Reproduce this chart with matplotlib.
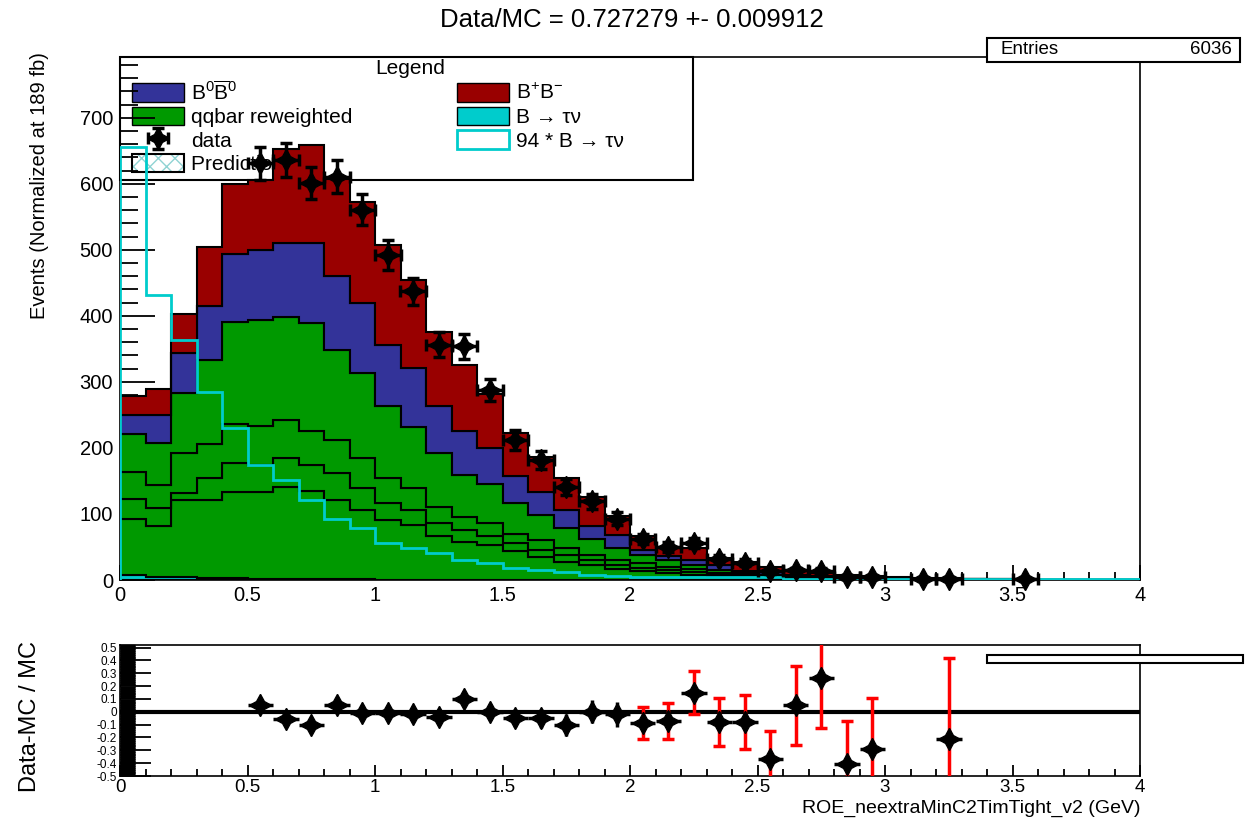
import numpy as np
import matplotlib.pyplot as plt
from matplotlib.patches import Patch, Rectangle
from matplotlib.ticker import MultipleLocator, FuncFormatter

plt.rcParams['font.family'] = ['Liberation Sans', 'DejaVu Sans']
plt.rcParams['mathtext.fontset'] = 'custom'
plt.rcParams['mathtext.rm'] = 'Liberation Sans'
plt.rcParams['mathtext.it'] = 'Liberation Sans:italic'

# 40 bins of 0.1 GeV
edges = np.linspace(0, 4, 41)

# stacked MC, cumulative heights of each layer
bc_top = [278, 289, 403, 505, 600, 606, 652, 659, 607, 573,
          508, 454, 376, 325, 281, 222, 187, 154, 126, 97,
          66, 50, 48, 33, 27, 20, 14, 11, 7, 6,
          4, 3, 3, 2, 1.5, 1.2, 0, 0, 0, 0]
b0_top = [250, 250, 343, 415, 494, 500, 511, 511, 461, 419,
          356, 321, 263, 225, 200, 157, 134, 106, 82, 68,
          46, 36, 30, 22, 14, 12, 8, 6, 4, 3,
          2.5, 2, 2, 1.5, 1, 0.8, 0, 0, 0, 0]
qq_top = [221, 208, 283, 333, 390, 393, 398, 389, 348, 313,
          263, 232, 192, 159, 146, 116, 98, 78, 62, 48,
          38, 30, 23, 15, 10, 8, 5, 4, 3, 2,
          1.5, 1, 1, 0.8, 0.6, 0.5, 0, 0, 0, 0]
qq_1 = [164, 144, 193, 206, 236, 233, 242, 225, 212, 184,
        154, 139, 111, 96, 86, 70, 61, 48, 38, 30,
        25, 20, 16, 11, 8, 6, 4, 3, 2, 1.5,
        1, 0.8, 0.8, 0.6, 0.5, 0.4, 0, 0, 0, 0]
qq_2 = [123, 109, 131, 154, 177, 174, 184, 174, 162, 139,
        117, 106, 86, 76, 66, 56, 46, 38, 30, 23,
        18, 15, 12, 8, 6, 4, 3, 2, 1.5, 1,
        0.8, 0.6, 0.6, 0.4, 0.3, 0.3, 0, 0, 0, 0]
qq_3 = [93, 82, 121, 121, 134, 134, 141, 135, 121, 106,
        91, 83, 66, 57, 53, 44, 35, 28, 23, 16,
        13, 10, 8, 6, 4, 3, 2, 1.5, 1, 0.7,
        0.5, 0.4, 0.4, 0.3, 0.2, 0.2, 0, 0, 0, 0]
# signal scaled by 94 (open cyan histogram)
signal_94 = [655, 432, 363, 284, 230, 174, 152, 121, 93, 78,
             56, 48, 41, 30, 25, 18, 15, 12, 8, 6,
             5, 5, 4, 4, 4, 4, 1, 1, 1, 1,
             1, 1, 1, 1, 1, 1, 1, 1, 1, 1]
signal_scale = 94

# data
data_x = [0.55, 0.65, 0.75, 0.85, 0.95, 1.05, 1.15, 1.25, 1.35, 1.45,
          1.55, 1.65, 1.75, 1.85, 1.95, 2.05, 2.15, 2.25, 2.35, 2.45,
          2.55, 2.65, 2.75, 2.85, 2.95, 3.15, 3.25, 3.55]
data_y = [631, 636, 601, 611, 561, 492, 437, 356, 354, 288,
          212, 182, 141, 119, 93, 62, 50, 56, 32, 26,
          13, 15, 14, 4, 4, 2, 2, 2]

# (data-MC)/MC
ratio_x = [0.55, 0.65, 0.75, 0.85, 0.95, 1.05, 1.15, 1.25, 1.35, 1.45,
           1.55, 1.65, 1.75, 1.85, 1.95, 2.05, 2.15, 2.25, 2.35, 2.45,
           2.55, 2.65, 2.75, 2.85, 2.95, 3.25]
ratio_y = [0.05, -0.06, -0.10, 0.05, -0.01, -0.01, -0.02, -0.04, 0.10, 0.0,
           -0.05, -0.05, -0.10, 0.0, -0.02, -0.085, -0.07, 0.15, -0.08, -0.08,
           -0.37, 0.05, 0.26, -0.41, -0.29, -0.21]
ratio_err = [0.04, 0.04, 0.04, 0.04, 0.045, 0.045, 0.05, 0.055, 0.055, 0.06,
             0.07, 0.075, 0.085, 0.09, 0.10, 0.125, 0.14, 0.17, 0.19, 0.21,
             0.22, 0.31, 0.385, 0.34, 0.40, 0.63]

GREEN = '#009900'
BLUE = '#333399'
RED = '#990000'
CYAN = '#00cccc'
STAR = (4, 1, 0)
MS = 16

W, H = 1251, 822


def fbox(x0, y0, x1, y1):
    # pixel box (top-left origin) -> figure fraction rect
    return [x0 / W, 1 - y1 / H, (x1 - x0) / W, (y1 - y0) / H]


fig = plt.figure(figsize=(W / 100, H / 100), dpi=100)
ax = fig.add_axes(fbox(120, 57, 1140, 580))
rax = fig.add_axes(fbox(120, 645, 1140, 776))

# stack
sig_top = np.array(signal_94, float) / signal_scale
layers = [(sig_top, CYAN), (qq_3, GREEN), (qq_2, GREEN), (qq_1, GREEN),
          (qq_top, GREEN), (b0_top, BLUE), (bc_top, RED)]
base = np.zeros(len(edges) - 1)
for top, col in layers:
    top = np.asarray(top, float)
    ax.stairs(top, edges, baseline=base, fill=True, facecolor=col,
              edgecolor='black', linewidth=1.5, zorder=3)
    base = top

ax.stairs(signal_94, edges, color=CYAN, linewidth=2, zorder=3.5)

dat = ax.errorbar(data_x, data_y, xerr=0.05, yerr=np.sqrt(data_y), fmt='',
                  marker=STAR, linestyle='none', ms=MS, color='black',
                  elinewidth=2.5, capsize=4, capthick=2.5, zorder=5)
for a in dat.get_children():
    a.set_clip_on(False)

ax.set_xlim(0, 4)
ax.set_ylim(0, 792)
fmt = FuncFormatter(lambda v, p: '%g' % (round(v, 2) + 0.0))
ax.xaxis.set_major_locator(MultipleLocator(0.5))
ax.xaxis.set_minor_locator(MultipleLocator(0.1))
ax.yaxis.set_major_locator(MultipleLocator(100))
ax.yaxis.set_minor_locator(MultipleLocator(20))
ax.xaxis.set_major_formatter(fmt)
ax.tick_params(which='both', direction='in', top=False, right=False, width=1.3,
               labelsize=14.5)
ax.tick_params(axis='y', which='major', length=25, pad=5)
ax.tick_params(axis='y', which='minor', length=13)
ax.tick_params(axis='x', which='major', length=11, pad=4)
ax.tick_params(axis='x', which='minor', length=6)
for s in ax.spines.values():
    s.set_linewidth(1.2)

# legend (sits under the histograms, like the original)
handles = [Patch(fc=BLUE, ec='black'), Patch(fc=GREEN, ec='black'), dat,
           (Patch(fc='white', ec='#8fd3d3', hatch='xx', lw=0),
            Patch(fc='none', ec='black', lw=1.5)),
           Patch(fc=RED, ec='black'), Patch(fc=CYAN, ec='black'),
           Patch(fc='white', ec=CYAN, lw=2)]
labels = [r'B$^0\overline{\mathrm{B}}^0$', 'qqbar reweighted', 'data',
          'Prediction MC', r'B$^{+}$B$^{-}$', 'B → τν', '94 * B → τν']
leg = ax.legend(handles, labels, ncol=2, loc='upper left',
                bbox_to_anchor=(132 / W, 1 - 80 / H),
                bbox_transform=fig.transFigure, frameon=False, fontsize=15,
                handlelength=2.5, handleheight=1.0, handletextpad=0.35,
                labelspacing=0.15, columnspacing=5.0, borderpad=0,
                borderaxespad=0)
leg.set_zorder(1)
ax.add_patch(Rectangle((120 / W, 1 - 180 / H), 573 / W, 123 / H,
                       transform=fig.transFigure, fc='white', ec='black',
                       lw=1.5, zorder=0.9, clip_on=False))
ax.text(410 / W, 1 - 68 / H, 'Legend', transform=fig.transFigure,
        ha='center', va='center', fontsize=15, zorder=1)

# ratio panel
rx = np.array(ratio_x)
ry = np.array(ratio_y)
re = np.array(ratio_err)
big = rx > 2.0
rax.axhline(0, color='black', lw=3, zorder=2)
rax.errorbar(rx[big], ry[big], yerr=re[big], fmt='none', ecolor='red',
             elinewidth=2.5, capsize=4, capthick=2.5, zorder=3)
rax.errorbar(rx[~big], ry[~big], xerr=0.05, yerr=re[~big], fmt='',
             marker=STAR, linestyle='none', ms=MS, color='black',
             elinewidth=2.5, zorder=4)
rax.errorbar(rx[big], ry[big], xerr=0.05, fmt='', marker=STAR,
             linestyle='none', ms=MS, color='black', elinewidth=2.5, zorder=4)

rax.set_xlim(0, 4)
rax.set_ylim(-0.5, 0.52)
rax.xaxis.set_major_locator(MultipleLocator(0.5))
rax.xaxis.set_minor_locator(MultipleLocator(0.1))
rax.yaxis.set_major_locator(MultipleLocator(0.1))
rax.yaxis.set_minor_locator(MultipleLocator(0.005))
rax.xaxis.set_major_formatter(fmt)
rax.yaxis.set_major_formatter(fmt)
rax.tick_params(which='both', direction='in', top=False, right=False, width=1.3)
rax.tick_params(axis='y', which='major', length=22, labelsize=8.5, pad=2)
rax.tick_params(axis='y', which='minor', length=11, width=1.0)
rax.tick_params(axis='x', which='major', length=8, labelsize=13.5, pad=2)
rax.tick_params(axis='x', which='minor', length=5)
for s in rax.spines.values():
    s.set_linewidth(1.2)

# texts
fig.text(632 / W, 1 - 20 / H, 'Data/MC = 0.727279 +- 0.009912',
         ha='center', va='center', fontsize=18.5)
fig.text(40 / W, 1 - 52 / H, 'Events (Normalized at 189 fb)', rotation=90,
         ha='center', va='top', fontsize=14.5)
fig.text(30 / W, 1 - 716 / H, 'Data-MC / MC', rotation=90,
         ha='center', va='center', fontsize=17)
fig.text(1140 / W, 1 - 808 / H, 'ROE_neextraMinC2TimTight_v2 (GeV)',
         ha='right', va='center', fontsize=14)

# stat boxes
fig.add_artist(Rectangle((987 / W, 1 - 62 / H), 253 / W, 24 / H,
                         transform=fig.transFigure, fc='white', ec='black',
                         lw=1.5, zorder=5))
fig.text(1000 / W, 1 - 50 / H, 'Entries', ha='left', va='center',
         fontsize=13.5, zorder=6)
fig.text(1232 / W, 1 - 50 / H, '6036', ha='right', va='center',
         fontsize=13.5, zorder=6)
fig.add_artist(Rectangle((987 / W, 1 - 663 / H), 256 / W, 8 / H,
                         transform=fig.transFigure, fc='white', ec='black',
                         lw=1.5, zorder=5))

fig.savefig('out.png', dpi=100)
